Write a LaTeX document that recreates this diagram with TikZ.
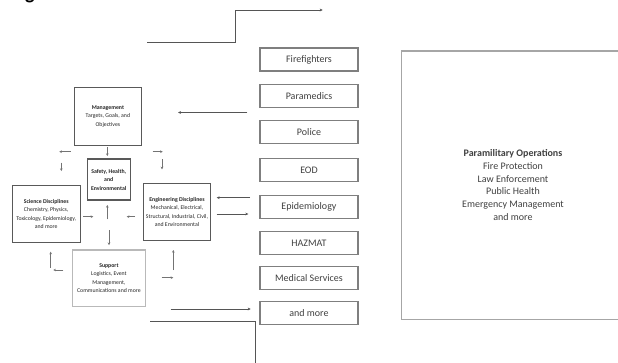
\documentclass[tikz,border=0pt]{standalone}
\usepackage{fontspec}
\setmainfont{Carlito}
\usetikzlibrary{arrows.meta}
\definecolor{txt}{HTML}{404040}
\definecolor{rbox}{HTML}{7F7F7F}
\definecolor{lbox}{HTML}{595959}
\definecolor{lnk}{HTML}{555555}
\begin{document}
\begin{tikzpicture}[x=1pt,y=-1pt,
  rbx/.style={draw=rbox,line width=1.1pt,minimum width=98pt,minimum height=23pt,inner sep=0pt,
    font=\fontsize{10}{12}\selectfont,text=txt},
  lbx/.style={draw=lbox,line width=1.1pt,inner sep=0pt,align=center,
    font=\fontsize{5.8}{8.5}\selectfont,text=black!85},
  sarr/.style={draw=gray!90!black,line width=0.6pt,-{Stealth[length=2.6pt,width=2.6pt]}},
  larr/.style={draw=lnk,line width=0.7pt,-{Stealth[length=3pt,width=2.8pt]}},
  plain/.style={draw=lnk,line width=0.7pt}]
\useasboundingbox (0,0) rectangle (618,362);
\fill[white] (0,0) rectangle (618,362);

\node[anchor=base west,inner sep=0pt,font=\bfseries\fontsize{20}{20}\selectfont] (g) at (25,-1) {g};

% right column boxes
\node[rbx] (fire) at (309,59.5) {Firefighters};
\node[rbx] (para) at (309,96) {Paramedics};
\node[rbx] (pol)  at (309,132) {Police};
\node[rbx] (eod)  at (309,170.3) {EOD};
\node[rbx] (epi)  at (309,207) {Epidemiology};
\node[rbx] (haz)  at (309,243) {HAZMAT};
\node[rbx] (med)  at (309,278) {Medical Services};
\node[rbx] (more) at (309,313) {and more};

% big box
\draw[draw=gray!70,line width=1.4pt] (401.7,51) rectangle (624,319.3);
\node[align=center,font=\fontsize{10}{12.8}\selectfont,text=txt] (para-ops) at (513,185)
  {\textbf{Paramilitary Operations}\\Fire Protection\\Law Enforcement\\Public Health\\Emergency Management\\and more};

% left boxes
\node[lbx,minimum width=67.7pt,minimum height=57.7pt] (mgmt) at (107.9,116.2)
  {\textbf{Management}\\Targets, Goals, and\\Objectives};
\node[lbx,minimum width=42.7pt,minimum height=41pt] (safe) at (108.7,179.5)
  {\textbf{Safety, Health,}\\\textbf{and}\\\textbf{Environmental}};
\node[lbx,minimum width=67.7pt,minimum height=57.4pt] (sci) at (46.2,214)
  {\textbf{Science Disciplines}\\Chemistry, Physics,\\Toxicology, Epidemiology,\\and more};
\node[lbx,minimum width=67.4pt,minimum height=57.4pt] (eng) at (177,212)
  {\textbf{Engineering Disciplines}\\Mechanical, Electrical,\\Structural, Industrial, Civil,\\and Environmental};
\node[lbx,draw=gray!55,minimum width=72.3pt,minimum height=56.7pt] (sup) at (108.9,278.3)
  {\textbf{Support}\\Logistics, Event\\Management,\\Communications and more};

% short arrows
\draw[sarr] (70.7,151.7) coordinate (s1a) -- (59.3,151.7) coordinate (s1b);
\draw[sarr] (61.3,162.5) coordinate (s2a) -- (61.3,171) coordinate (s2b);
\draw[sarr] (107.3,147.3) coordinate (s3a) -- (107.3,156) coordinate (s3b);
\draw[sarr] (152.7,151.7) coordinate (s4a) -- (162.7,151.7) coordinate (s4b);
\draw[sarr] (162,159) coordinate (s5a) -- (162,169.3) coordinate (s5b);
\draw[sarr] (83.3,216.7) coordinate (s6a) -- (93.3,216.7) coordinate (s6b);
\draw[sarr] (107.3,219.3) coordinate (s7a) -- (107.3,205) coordinate (s7b);
\draw[sarr] (135,216.7) coordinate (s8a) -- (126.7,216.7) coordinate (s8b);
\draw[sarr] (109,230) coordinate (s9a) -- (109,245) coordinate (s9b);
\draw[sarr] (50.7,267.5) coordinate (s10a) -- (50.7,251.7) coordinate (s10b);
\draw[sarr] (63.3,270) coordinate (s11a) -- (53.3,270) coordinate (s11b);
\draw[sarr] (173.3,270) coordinate (s12a) -- (173.3,250) coordinate (s12b);
\draw[sarr] (161.7,277.7) coordinate (s13a) -- (173.3,277.7) coordinate (s13b);

% long arrows
\draw[larr] ([xshift=-12pt]para.west |- 0,112.5) coordinate (l1a) -- (178,112.5) coordinate (l1b);
\draw[larr] (250,197.7) coordinate (l2a) -- (216.7,197.7) coordinate (l2b);
\draw[larr] (216.7,214) coordinate (l3a) -- (248.3,214) coordinate (l3b);
\draw[larr] (170.7,309) coordinate (l4a) -- (250.7,309) coordinate (l4b);

% elbow lines
\draw[larr] (147,42.7) coordinate (e1a) -- (235,42.7) -- (235,10) -- (322.7,10) coordinate (e1b);
\draw[plain] (150,321.7) coordinate (e2a) -- (255,321.7) -- (255,366) coordinate (e2b);
\end{tikzpicture}
\end{document}
